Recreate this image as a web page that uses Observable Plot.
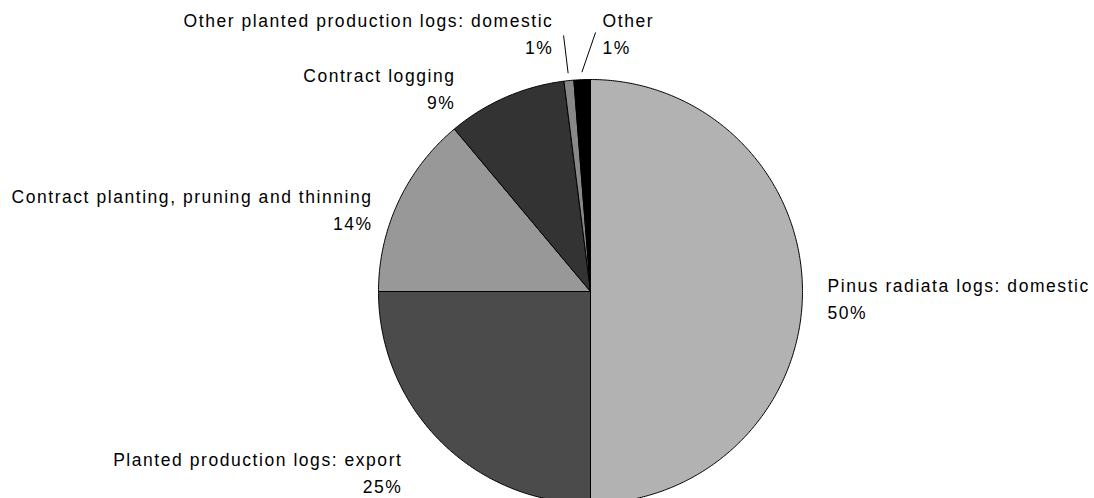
<!DOCTYPE html>
<html><head><meta charset="utf-8">
<script src="https://cdn.jsdelivr.net/npm/d3@7"></script>
<script src="https://cdn.jsdelivr.net/npm/@observablehq/plot@0.6"></script>
<style>body{margin:0;background:#fff;overflow:hidden}</style>
</head><body><div id="chart"></div>
<script>
const categories = ["Pinus radiata logs: domestic","Planted production logs: export","Contract planting, pruning and thinning","Contract logging","Other planted production logs: domestic","Other"];
const shares = [50, 25, 13.9, 9.1, 0.75, 1.25];
const pctLabels = ["50%","25%","14%","9%","1%","1%"];
const colors = ["#b2b2b2","#4b4b4b","#989898","#333333","#888888","#000000"];
// label layout, in pie-radius units
const labelX = [1.118,-0.887,-1.028,-0.637,-0.175,0.057];
const labelY = [0.088,-0.735,0.508,1.079,1.338,1.338];
const labelAnchor = ["start","end","end","end","end","start"];
const leaderX = [null,null,null,null,-0.127,0.024];
const leaderY = [null,null,null,null,1.208,1.222];

const arcs = d3.pie().sort(null).value(d => d)(shares);
const slicePts = [];
arcs.forEach((a, i) => {
  const n = Math.max(2, Math.ceil((a.endAngle - a.startAngle) / (Math.PI / 360)));
  slicePts.push({cat: categories[i], x: 0, y: 0});
  for (let k = 0; k <= n; k++) {
    const t = a.startAngle + (a.endAngle - a.startAngle) * k / n;
    slicePts.push({cat: categories[i], x: Math.sin(t), y: Math.cos(t)});
  }
  slicePts.push({cat: categories[i], x: 0, y: 0});
});
const labels = categories.map((c, i) => ({text: c + "\n" + pctLabels[i], x: labelX[i], y: labelY[i], anchor: labelAnchor[i]}));
const leaders = [];
arcs.forEach((a, i) => {
  if (leaderX[i] == null) return;
  const m = (a.startAngle + a.endAngle) / 2;
  leaders.push({x1: 1.035 * Math.sin(m), y1: 1.035 * Math.cos(m), x2: leaderX[i], y2: leaderY[i]});
});
const font = {fontSize: 17.5, fontFamily: "Liberation Sans, Arial, sans-serif", fill: "#000", lineAnchor: "top", lineHeight: 1.543};
const chart = Plot.plot({
  width: 1094, height: 498,
  x: {domain: [-1, 1], range: [378, 802], axis: null},
  y: {domain: [-1, 1], range: [503, 79], axis: null},
  color: {domain: categories, range: colors},
  style: {background: "#fff", letterSpacing: "1.55px"},
  marks: [
    Plot.line(slicePts, {x: "x", y: "y", z: "cat", fill: "cat", stroke: "#000", strokeWidth: 1, curve: "linear"}),
    Plot.link(leaders, {x1: "x1", y1: "y1", x2: "x2", y2: "y2", stroke: "#000", strokeWidth: 1}),
    Plot.text(labels.filter(d => d.anchor === "start"), {x: "x", y: "y", text: "text", textAnchor: "start", ...font}),
    Plot.text(labels.filter(d => d.anchor === "end"), {x: "x", y: "y", text: "text", textAnchor: "end", ...font})
  ]
});
document.getElementById("chart").append(chart);
</script>
</body></html>
